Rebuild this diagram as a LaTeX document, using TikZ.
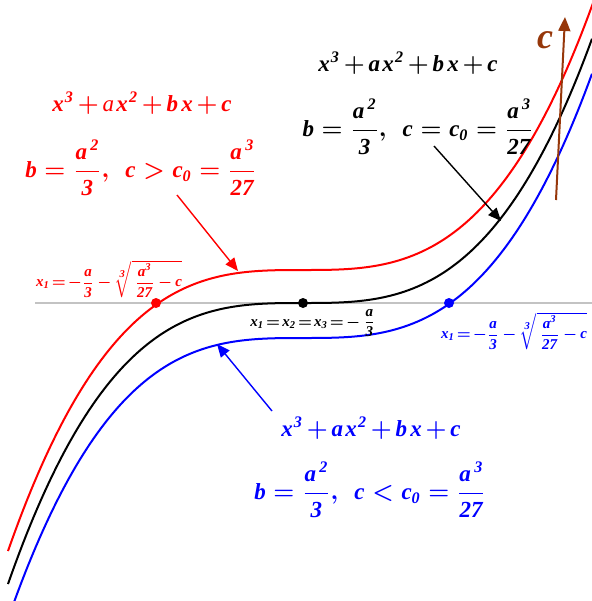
\documentclass[tikz,border=0pt]{standalone}
\usepackage{amsmath}
\usepackage{fontspec}
\setmainfont{Liberation Serif}
\usetikzlibrary{arrows.meta}
\newcommand\V[1]{\textbf{\textit{#1}}}
\newcommand\eqq{\mkern2mu{=}\mkern2mu}
\newcommand\mns{\mkern3mu{-}\mkern3mu}
\newcommand\pl{\mkern2.5mu{+}\mkern2.5mu}
\newcommand\poly[1]{$\V{x}^{\mkern1mu\V3}\pl #1\mkern1.5mu\V{x}^{\mkern1mu\V2}\pl\V{b}\mkern2mu\V{x}\pl\V{c}$}
\definecolor{brn}{RGB}{150,55,10}
\definecolor{axisgray}{RGB}{195,195,195}
\tikzset{
  curve/.style={line width=1pt},
  eq/.style={inner sep=0pt, font=\fontsize{11.5}{14}\selectfont\boldmath},
  lab/.style={inner sep=0pt, font=\fontsize{7.5}{9}\selectfont\boldmath},
  dot/.style={circle, inner sep=0pt, minimum size=5pt},
  ptr/.style={line width=0.7pt, -{Triangle[length=6.5pt,width=5.5pt]}},
}
\begin{document}
\begin{tikzpicture}[x=0.5pt,y=-0.5pt]
\useasboundingbox (0,0) rectangle (592,601);
\begin{scope}
\clip (0,0) rectangle (592,601);
\coordinate (axL) at (35,303);
\coordinate (axR) at (592,303);
\draw[axisgray, line width=1pt] (axL) -- (axR);
\draw[curve, red] plot[domain=8:600, samples=160] (\x, {270 - 10.946*((\x-303)/100)*((\x-303)/100)*((\x-303)/100)});
\draw[curve, black] plot[domain=8:592, samples=160] (\x, {303 - 10.946*((\x-303)/100)*((\x-303)/100)*((\x-303)/100)});
\draw[curve, blue] plot[domain=14:592, samples=160] (\x, {338 - 10.946*((\x-303)/100)*((\x-303)/100)*((\x-303)/100)});
\end{scope}

\node[dot, fill=red] (r1) at (156,303) {};
\node[dot, fill=black] (k1) at (303,303) {};
\node[dot, fill=blue] (b1) at (449,303) {};

% red texts
\node[eq, red] (rp) at (142,103) {\poly{\textit{a}}};
\node[eq, red] (rc) at (141,168) {$\V{b} = \dfrac{\V{a}^{\,\V2}}{\V3},\ \ \V{c} > \V{c}_{\V0} = \dfrac{\V{a}^{\,\V3}}{\V{27}}$};
\node[lab, red] (rx) at (109,279) {$\V{x}_{\V1}\eqq{-}\dfrac{\V a}{\V 3}\mns\sqrt[\scriptstyle\V3]{\,\dfrac{\V a^{\V3}}{\V{27}}\mns\V c}$};

% black texts
\node[eq, black] (kp) at (408,63) {\poly{\V{a}}};
\node[eq, black] (kc) at (418,127) {$\V{b} = \dfrac{\V{a}^{\,\V2}}{\V3},\ \ \V{c} = \V{c}_{\V0} = \dfrac{\V{a}^{\,\V3}}{\V{27}}$};
\node[lab, black] (kx) at (313,323) {$\V{x}_{\V1}\eqq\V{x}_{\V2}\eqq\V{x}_{\V3}\eqq{-}\,\dfrac{\V a}{\V 3}$};

% blue texts
\node[eq, blue] (bp) at (371,428) {\poly{\V{a}}};
\node[eq, blue] (bc) at (370,490) {$\V{b} = \dfrac{\V{a}^{\,\V2}}{\V3},\ \ \V{c} < \V{c}_{\V0} = \dfrac{\V{a}^{\,\V3}}{\V{27}}$};
\node[lab, blue] (bx) at (514,331) {$\V{x}_{\V1}\eqq{-}\dfrac{\V a}{\V 3}\mns\sqrt[\scriptstyle\V3]{\,\dfrac{\V a^{\V3}}{\V{27}}\mns\V c}$};

% pointer arrows
\coordinate (ra0) at (177,195); \coordinate (ra1) at (238,271);
\coordinate (ka0) at (434,146); \coordinate (ka1) at (501,221);
\coordinate (ba0) at (272,411); \coordinate (ba1) at (217,344);
\draw[ptr, red] (ra0) -- (ra1);
\draw[ptr, black] (ka0) -- (ka1);
\draw[ptr, blue] (ba0) -- (ba1);

% c direction arrow
\coordinate (c0) at (556,200); \coordinate (c1) at (565,17);
\draw[brn, line width=1pt, -{Triangle[length=7pt,width=6pt]}] (c0) -- (c1);
\node[brn, inner sep=0pt, font=\fontsize{18}{20}\selectfont] (cl) at (545,40) {\V{c}};
\end{tikzpicture}
\end{document}
